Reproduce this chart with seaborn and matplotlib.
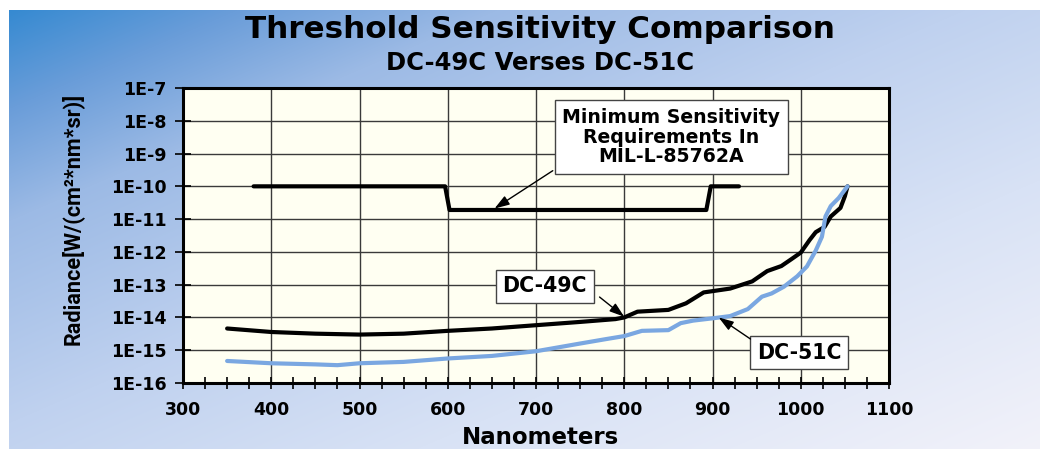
import numpy as np
import pandas as pd
import matplotlib
matplotlib.use("Agg")
import matplotlib.pyplot as plt
import seaborn as sns
from matplotlib.ticker import MultipleLocator, LogLocator, FixedLocator, NullFormatter

# ---------------- data ----------------
wl_49 = [350, 400, 450, 500, 550, 600, 650, 700, 750, 790, 800, 815, 850, 870, 890,
         920, 945, 962, 978, 989, 1000, 1010, 1017, 1027, 1034, 1045, 1050, 1053]
rad_49 = [4.6e-15, 3.6e-15, 3.2e-15, 3.0e-15, 3.2e-15, 3.9e-15, 4.6e-15, 5.8e-15, 7.3e-15,
          8.9e-15, 1.0e-14, 1.5e-14, 1.7e-14, 2.7e-14, 5.8e-14, 7.6e-14, 1.26e-13, 2.6e-13,
          3.7e-13, 5.9e-13, 9.5e-13, 2.3e-12, 4.0e-12, 5.8e-12, 1.2e-11, 2.2e-11, 5e-11, 1e-10]

wl_51 = [350, 400, 450, 475, 500, 550, 600, 650, 700, 750, 780, 800, 820, 850, 864, 878,
         900, 920, 940, 956, 967, 981, 996, 1007, 1017, 1024, 1028, 1034, 1043, 1053]
rad_51 = [4.7e-16, 4.0e-16, 3.7e-16, 3.5e-16, 4.0e-16, 4.4e-16, 5.6e-16, 6.7e-16, 9.3e-16,
          1.6e-15, 2.2e-15, 2.7e-15, 3.9e-15, 4.1e-15, 6.7e-15, 8.0e-15, 9.4e-15, 1.1e-14,
          1.8e-14, 4.3e-14, 5.4e-14, 8.7e-14, 1.8e-13, 3.6e-13, 1.1e-12, 2.9e-12, 1.2e-11,
          2.5e-11, 4.4e-11, 1e-10]

req_wl = [380, 597, 602, 893, 898, 930]
req_rad = [1e-10, 1e-10, 1.9e-11, 1.9e-11, 1e-10, 1e-10]

x_ticks = [300, 400, 500, 600, 700, 800, 900, 1000, 1100]
y_ticks = [1e-16, 1e-15, 1e-14, 1e-13, 1e-12, 1e-11, 1e-10, 1e-9, 1e-8, 1e-7]
y_labels = ["1E-16", "1E-15", "1E-14", "1E-13", "1E-12", "1E-11", "1E-10", "1E-9", "1E-8", "1E-7"]

title = "Threshold Sensitivity Comparison"
subtitle = "DC-49C Verses DC-51C"
x_label = "Nanometers"
y_label = "Radiance[W/(cm²*nm*sr)]"
req_text = "Minimum Sensitivity\nRequirements In\nMIL-L-85762A"

df49 = pd.DataFrame({"nm": wl_49, "rad": rad_49})
df51 = pd.DataFrame({"nm": wl_51, "rad": rad_51})
dfreq = pd.DataFrame({"nm": req_wl, "rad": req_rad})

# ---------------- figure ----------------
sns.set_style("ticks")
plt.rcParams["font.family"] = ["DejaVu Sans"]
for k in ["text.color", "axes.labelcolor", "xtick.color", "ytick.color", "axes.edgecolor"]:
    plt.rcParams[k] = "black"
W, H = 1040, 449
fig = plt.figure(figsize=(W / 100, H / 100), dpi=100)

# background gradient
bg = fig.add_axes([0, 0, 1, 1], zorder=-10)
bg.set_axis_off()
yy, xx = np.mgrid[0:H, 0:W]
u = xx / W + yy / H
stops = np.array([0.0, 0.25, 0.5, 0.95, 1.4, 2.0])
cols = np.array([
    [0x2E, 0x87, 0xD0],
    [0x6A, 0x9D, 0xD9],
    [0x9C, 0xBA, 0xE5],
    [0xBF, 0xD1, 0xEF],
    [0xD8, 0xE2, 0xF5],
    [0xF2, 0xF2, 0xFA],
]) / 255.0
img = np.zeros((H, W, 3))
for c in range(3):
    img[..., c] = np.interp(u, stops, cols[:, c])
img[:10, :, :] = 1.0
img[:, :9, :] = 1.0
bg.imshow(img, aspect="auto", extent=[0, 1, 0, 1], origin="upper")
bg.set_xlim(0, 1)
bg.set_ylim(0, 1)

# main axes
L, R, B, T = 183, 889, 383, 88
ax = fig.add_axes([L / W, 1 - B / H, (R - L) / W, (B - T) / H])
ax.set_facecolor("#FFFFF2")

sns.lineplot(data=dfreq, x="nm", y="rad", ax=ax, color="black", lw=3.0,
             sort=False, estimator=None, zorder=4)
sns.lineplot(data=df49, x="nm", y="rad", ax=ax, color="black", lw=3.0,
             sort=False, estimator=None, zorder=4)
sns.lineplot(data=df51, x="nm", y="rad", ax=ax, color="#7AA7E1", lw=3.0,
             sort=False, estimator=None, zorder=5)

ax.set_yscale("log")
ax.set_xlim(300, 1100)
ax.set_ylim(1e-16, 1e-7)

ax.xaxis.set_major_locator(FixedLocator(x_ticks))
ax.xaxis.set_minor_locator(MultipleLocator(25))
ax.yaxis.set_major_locator(FixedLocator(y_ticks))
ax.set_yticklabels(y_labels)
ax.yaxis.set_minor_locator(LogLocator(base=10, subs=np.arange(2, 10)))
ax.yaxis.set_minor_formatter(NullFormatter())

ax.grid(True, which="major", color="#3a3a3a", lw=1.0)
ax.set_axisbelow(True)
for s in ax.spines.values():
    s.set_linewidth(2.2)
    s.set_color("black")
    s.set_visible(True)

ax.tick_params(axis="x", which="both", direction="inout", length=8, width=1.2,
               colors="black", pad=9, labelsize=12.5)
ax.tick_params(axis="y", which="major", direction="inout", length=12, width=1.2,
               colors="black", pad=6, labelsize=12.5)
ax.tick_params(axis="y", which="minor", direction="in", length=5, width=0.9, colors="black")
for lab in ax.get_xticklabels() + ax.get_yticklabels():
    lab.set_fontweight("bold")

ax.set_xlabel("")
ax.set_ylabel("")

# axis titles
fig.text(541 / W, 1 - 437 / H, x_label, ha="center", va="center",
         fontsize=16.5, fontweight="bold", color="black")
fig.text(72 / W, 1 - 219 / H, y_label, ha="center", va="center",
         rotation=90, fontsize=15.6, fontweight="bold", color="black",
         family=["Roboto", "DejaVu Sans"])

# titles
fig.text(540 / W, 1 - 30 / H, title, ha="center", va="center",
         fontsize=22.3, fontweight="bold", color="black")
fig.text(540 / W, 1 - 63 / H, subtitle, ha="center", va="center",
         fontsize=17.5, fontweight="bold", color="black")

# annotations
box = dict(boxstyle="square,pad=0.32", fc="white", ec="#444444", lw=1.0)
arrow = dict(arrowstyle="-|>,head_length=0.9,head_width=0.3", color="black",
             lw=1.0, shrinkA=0, shrinkB=0)

ax.text(853, 10 ** -8.5, req_text, ha="center", va="center", fontsize=13.6,
        fontweight="bold", bbox=dict(boxstyle="square,pad=0.4", fc="white",
                                     ec="#444444", lw=1.0),
        zorder=6, linespacing=1.05, color="black")
ax.annotate("", xy=(653, 2.1e-11), xytext=(719, 3.0e-10), arrowprops=arrow, zorder=6)

ax.text(710, 9.0e-14, "DC-49C", ha="center", va="center", fontsize=14.8,
        fontweight="bold", bbox=box, zorder=6, color="black")
ax.annotate("", xy=(800, 1.05e-14), xytext=(772, 4.2e-14), arrowprops=arrow, zorder=6)

ax.text(998, 8.5e-16, "DC-51C", ha="center", va="center", fontsize=14.8,
        fontweight="bold", bbox=box, zorder=6, color="black")
ax.annotate("", xy=(907, 1.0e-14), xytext=(943, 2.2e-15), arrowprops=arrow, zorder=6)

fig.savefig("out.png", dpi=100)
